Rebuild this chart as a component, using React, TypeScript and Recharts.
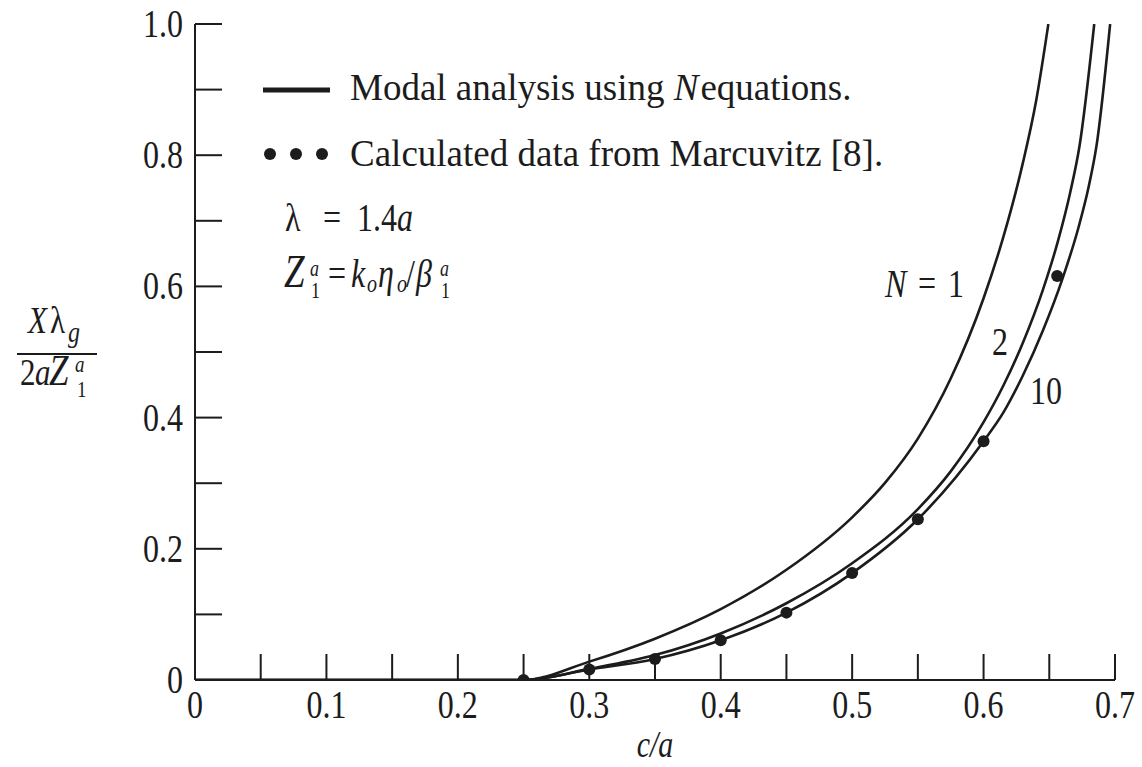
import React from 'react';
import { ComposedChart, Line, Scatter, XAxis, YAxis, Legend } from 'recharts';

const W = 1142;
const H = 767;

// N = 1 curve
const n1X = [0, 0.25, 0.3, 0.35, 0.4, 0.45, 0.5, 0.525, 0.55, 0.575, 0.6, 0.615, 0.63, 0.64, 0.6493];
const n1Y = [0, 0, 0.028, 0.063, 0.108, 0.168, 0.248, 0.3005, 0.368, 0.4595, 0.582, 0.675, 0.789, 0.883, 1.0];

// N = 2 curve
const n2X = [0, 0.25, 0.3, 0.35, 0.4, 0.45, 0.5, 0.55, 0.575, 0.6, 0.615, 0.63, 0.645, 0.657, 0.666, 0.673, 0.6842];
const n2Y = [0, 0, 0.017, 0.038, 0.071, 0.117, 0.178, 0.2605, 0.318, 0.393, 0.4485, 0.5145, 0.594, 0.672, 0.744, 0.814, 1.0];

// N = 10 curve
const n10X = [0, 0.25, 0.3, 0.35, 0.4, 0.45, 0.5, 0.55, 0.6, 0.615, 0.63, 0.645, 0.66, 0.672, 0.68, 0.686, 0.6963];
const n10Y = [0, 0, 0.016, 0.032, 0.0605, 0.1027, 0.163, 0.245, 0.364, 0.4075, 0.4645, 0.532, 0.6115, 0.6883, 0.7523, 0.8153, 1.0];

// Calculated data from Marcuvitz [8]
const markX = [0.25, 0.3, 0.35, 0.4, 0.45, 0.5, 0.55, 0.6, 0.656];
const markY = [0, 0.016, 0.032, 0.0605, 0.1027, 0.163, 0.245, 0.364, 0.616];

const xTicks = [0, 0.05, 0.1, 0.15, 0.2, 0.25, 0.3, 0.35, 0.4, 0.45, 0.5, 0.55, 0.6, 0.65, 0.7];
const xTickLabels = ['0', '', '0.1', '', '0.2', '', '0.3', '', '0.4', '', '0.5', '', '0.6', '', '0.7'];
const yTicks = [0, 0.1, 0.2, 0.3, 0.4, 0.5, 0.6, 0.7, 0.8, 0.9, 1.0];
const yTickLabels = ['0', '', '0.2', '', '0.4', '', '0.6', '', '0.8', '', '1.0'];

const zip = (xs: number[], ys: number[]) => xs.map((x, i) => ({ x, y: ys[i] }));

const INK = '#1c1c1c';
const FONT = "'Liberation Serif', 'Times New Roman', Times, serif";
const SY = 1.25;

type Piece = { t: string; x: number; y: number; size?: number; italic?: boolean };

// Vertically stretched text made of positioned pieces (screen coordinates)
function MT({ pieces, anchor = 'start', size = 32 }: { pieces: Piece[]; anchor?: string; size?: number }) {
  return (
    <text
      transform={`scale(1,${SY})`}
      fontFamily={FONT}
      style={{ fontFamily: FONT }}
      fontSize={size}
      textAnchor={anchor}
      fill={INK}
    >
      {pieces.map((p, i) => (
        <tspan
          key={i}
          x={p.x}
          y={p.y / SY}
          fontSize={p.size ?? size}
          fontStyle={p.italic ? 'italic' : 'normal'}
        >
          {p.t}
        </tspan>
      ))}
    </text>
  );
}

const findIdx = (arr: number[], v: number) => arr.findIndex((t) => Math.abs(t - v) < 1e-6);

function XTick(props: any) {
  const { x, y, payload } = props;
  const i = findIdx(xTicks, payload.value);
  const label = i >= 0 ? xTickLabels[i] : '';
  return (
    <g>
      {payload.value > 1e-6 && <line x1={x} x2={x} y1={y} y2={y - 26} stroke={INK} strokeWidth={2} />}
      {label && <MT anchor="middle" pieces={[{ t: label, x, y: y + 38 }]} />}
    </g>
  );
}

function YTick(props: any) {
  const { x, y, payload } = props;
  const i = findIdx(yTicks, payload.value);
  const label = i >= 0 ? yTickLabels[i] : '';
  return (
    <g>
      {payload.value > 1e-6 && <line x1={x} x2={x + 27} y1={y} y2={y} stroke={INK} strokeWidth={2} />}
      {label && <MT anchor="end" pieces={[{ t: label, x: x - 12, y: y + 13 }]} />}
    </g>
  );
}

function LegendContent() {
  return (
    <svg width={900} height={200} style={{ position: 'absolute', left: 0, top: 0, overflow: 'visible' }}>
      <line x1={263} x2={330} y1={90} y2={90} stroke={INK} strokeWidth={5} />
      {[270, 296, 322].map((cx) => (
        <circle key={cx} cx={cx} cy={154} r={6} fill={INK} />
      ))}
      <text x={350} y={100} fontFamily={FONT} style={{ fontFamily: FONT }} fontSize={37} fill={INK}>
        Modal analysis using <tspan fontStyle="italic">N</tspan>
        <tspan dx={2}>equations.</tspan>
      </text>
      <text x={350} y={166} fontFamily={FONT} style={{ fontFamily: FONT }} fontSize={37} fill={INK}>
        Calculated data from Marcuvitz [8].
      </text>
    </svg>
  );
}

function Annotations() {
  return (
    <svg width={W} height={H} style={{ position: 'absolute', left: 0, top: 0, pointerEvents: 'none' }}>
      {/* y-axis label fraction */}
      <MT
        size={31}
        pieces={[
          { t: 'X', x: 28, y: 333, italic: true },
          { t: 'λ', x: 50, y: 333 },
          { t: 'g', x: 68, y: 342, size: 24, italic: true },
        ]}
      />
      <line x1={17} x2={97} y1={354} y2={354} stroke={INK} strokeWidth={2} />
      <MT
        size={31}
        pieces={[
          { t: '2', x: 20, y: 385 },
          { t: 'a', x: 35, y: 385, italic: true },
          { t: 'Z', x: 49, y: 385, size: 35, italic: true },
          { t: 'a', x: 75, y: 372, size: 19, italic: true },
          { t: '1', x: 77, y: 397, size: 19 },
        ]}
      />

      {/* x-axis label */}
      <MT anchor="middle" size={30} pieces={[{ t: 'c/a', x: 655, y: 757, italic: true }]} />

      {/* parameters */}
      <MT
        size={32}
        pieces={[
          { t: 'λ', x: 285, y: 231 },
          { t: '=', x: 323, y: 231 },
          { t: '1.4', x: 357, y: 231 },
          { t: 'a', x: 397, y: 231, italic: true },
        ]}
      />
      <MT
        size={32}
        pieces={[
          { t: 'Z', x: 284, y: 287, size: 37, italic: true },
          { t: 'a', x: 310, y: 276, size: 18, italic: true },
          { t: '1', x: 311, y: 298, size: 18 },
          { t: '=', x: 328, y: 287 },
          { t: 'k', x: 351, y: 287, italic: true },
          { t: 'o', x: 367, y: 292, size: 20, italic: true },
          { t: 'η', x: 378, y: 287, italic: true },
          { t: 'o', x: 397, y: 292, size: 20, italic: true },
          { t: '/', x: 406, y: 287 },
          { t: 'β', x: 416, y: 287, italic: true },
          { t: 'a', x: 440, y: 276, size: 18, italic: true },
          { t: '1', x: 441, y: 298, size: 18 },
        ]}
      />

      {/* curve labels */}
      <MT
        size={32}
        pieces={[
          { t: 'N', x: 885, y: 297, italic: true },
          { t: '=', x: 918, y: 297 },
          { t: '1', x: 948, y: 297 },
        ]}
      />
      <MT size={32} pieces={[{ t: '2', x: 992, y: 355 }]} />
      <MT size={32} pieces={[{ t: '10', x: 1030, y: 404 }]} />
    </svg>
  );
}

export default function App() {
  return (
    <div style={{ position: 'absolute', left: 0, top: 0, width: W, height: H, background: '#fff' }}>
      <ComposedChart width={W} height={H} margin={{ top: 24, right: 27, bottom: 47, left: 135 }}>
        <XAxis
          type="number"
          dataKey="x"
          domain={[0, 0.7]}
          ticks={xTicks}
          interval={0}
          height={40}
          tickSize={0}
          tickMargin={0}
          tickLine={false}
          tick={<XTick />}
          axisLine={{ stroke: INK, strokeWidth: 2 }}
          allowDataOverflow
        />
        <YAxis
          type="number"
          dataKey="y"
          domain={[0, 1]}
          ticks={yTicks}
          interval={0}
          width={60}
          tickSize={0}
          tickMargin={0}
          tickLine={false}
          tick={<YTick />}
          axisLine={{ stroke: INK, strokeWidth: 2 }}
          allowDataOverflow
        />
        <Legend
          verticalAlign="middle"
          align="center"
          layout="horizontal"
          wrapperStyle={{ position: 'absolute', left: 0, top: 0, width: 900, height: 200, margin: 0, padding: 0 }}
          content={() => <LegendContent />}
        />
        <Line data={zip(n1X, n1Y)} dataKey="y" type="monotone" stroke={INK} strokeWidth={2.6} dot={false} isAnimationActive={false} name="N = 1" />
        <Line data={zip(n2X, n2Y)} dataKey="y" type="monotone" stroke={INK} strokeWidth={2.6} dot={false} isAnimationActive={false} name="N = 2" />
        <Line data={zip(n10X, n10Y)} dataKey="y" type="monotone" stroke={INK} strokeWidth={2.6} dot={false} isAnimationActive={false} name="N = 10" />
        <Scatter
          data={zip(markX, markY)}
          dataKey="y"
          fill={INK}
          isAnimationActive={false}
          name="Marcuvitz"
          shape={(p: any) => <circle cx={p.cx} cy={p.cy} r={6} fill={INK} />}
        />
      </ComposedChart>
      <Annotations />
    </div>
  );
}
